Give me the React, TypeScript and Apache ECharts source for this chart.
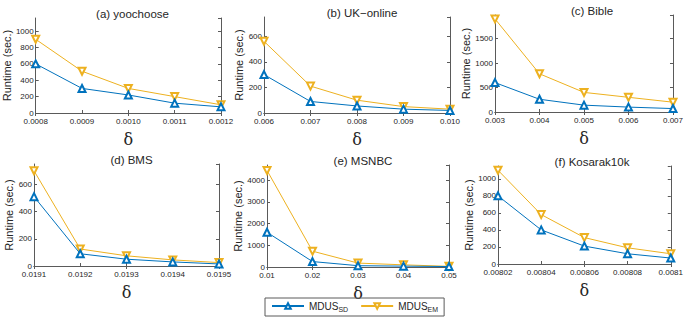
import { useEffect, useRef } from 'react';
import * as echarts from 'echarts';

const titles = ['(a) yoochoose', '(b) UK\u2212online', '(c) Bible', '(d) BMS', '(e) MSNBC', '(f) Kosarak10k'];

const xA = ['0.0008', '0.0009', '0.0010', '0.0011', '0.0012'];
const xB = ['0.006', '0.007', '0.008', '0.009', '0.010'];
const xC = ['0.003', '0.004', '0.005', '0.006', '0.007'];
const xD = ['0.0191', '0.0192', '0.0193', '0.0194', '0.0195'];
const xE = ['0.01', '0.02', '0.03', '0.04', '0.05'];
const xF = ['0.00802', '0.00804', '0.00806', '0.00808', '0.0081'];

const sdA = [600, 300, 220, 120, 75];
const emA = [900, 510, 300, 200, 100];
const sdB = [300, 90, 55, 30, 20];
const emB = [560, 210, 100, 50, 30];
const sdC = [600, 260, 140, 100, 70];
const emC = [1900, 780, 400, 300, 200];
const sdD = [510, 90, 50, 30, 15];
const emD = [700, 125, 75, 45, 25];
const sdE = [1600, 250, 60, 40, 20];
const emE = [4450, 730, 180, 100, 30];
const sdF = [800, 400, 210, 120, 70];
const emF = [1100, 580, 310, 190, 120];

const yMax = [1160, 750, 1980, 750, 4700, 1150];
const yInterval = [200, 200, 500, 200, 1000, 200];

const xCats = [xA, xB, xC, xD, xE, xF];
const sdSeries = [sdA, sdB, sdC, sdD, sdE, sdF];
const emSeries = [emA, emB, emC, emD, emE, emF];

const grids = [
  { left: 34, top: 18, width: 187, height: 95 },
  { left: 264, top: 17, width: 186, height: 96 },
  { left: 495, top: 15, width: 184, height: 97 },
  { left: 34, top: 164, width: 185, height: 102 },
  { left: 267, top: 165, width: 182, height: 102 },
  { left: 498, top: 166, width: 178, height: 98 },
];

const BLUE = '#0072BD';
const ORANGE = '#EDB120';
const INK = '#262626';
const BOX = '#5a5a5a';
const FONT = 'Liberation Sans, Arial, sans-serif';

export default function App() {
  const ref = useRef<HTMLDivElement>(null);
  useEffect(() => {
    if (!ref.current) return;
    const chart = echarts.init(ref.current, null, { renderer: 'svg' });
    const axisLine = { show: true, lineStyle: { color: BOX, width: 1 } };
    const tick = { show: true, inside: true, length: 3, lineStyle: { color: BOX, width: 1 } };
    const xAxis: any[] = [];
    const yAxis: any[] = [];
    const series: any[] = [];
    const title: any[] = [];
    grids.forEach((g, i) => {
      title.push({
        text: titles[i],
        left: g.left + g.width / 2,
        top: g.top - 15,
        textAlign: 'center',
        textStyle: { fontSize: 11.5, fontWeight: 'normal', color: INK, fontFamily: FONT },
      });
      xAxis.push({
        type: 'category',
        gridIndex: i,
        data: xCats[i],
        boundaryGap: false,
        position: 'bottom',
        axisLine,
        axisTick: tick,
        axisLabel: { fontSize: 8, color: INK, margin: 4, fontFamily: FONT, interval: 0 },
        splitLine: { show: false },
        name: 'δ',
        nameLocation: 'middle',
        nameGap: 18,
        nameTextStyle: { fontSize: 16, color: INK, fontFamily: 'DejaVu Serif, Liberation Serif, serif' },
      });
      xAxis.push({
        type: 'category',
        gridIndex: i,
        data: xCats[i],
        boundaryGap: false,
        position: 'top',
        axisLine,
        axisTick: tick,
        axisLabel: { show: false },
        splitLine: { show: false },
      });
      yAxis.push({
        type: 'value',
        gridIndex: i,
        min: 0,
        max: yMax[i],
        interval: yInterval[i],
        position: 'left',
        axisLine,
        axisTick: tick,
        axisLabel: {
          fontSize: 8,
          color: INK,
          margin: 2,
          fontFamily: FONT,
          showMaxLabel: false,
          formatter: (v: number) => String(v),
        },
        splitLine: { show: false },
        name: 'Runtime (sec.)',
        nameLocation: 'middle',
        nameGap: 20,
        nameTextStyle: { fontSize: 11, color: INK, fontFamily: FONT },
      });
      yAxis.push({
        type: 'value',
        gridIndex: i,
        min: 0,
        max: yMax[i],
        interval: yInterval[i],
        position: 'right',
        axisLine,
        axisTick: tick,
        axisLabel: { show: false },
        splitLine: { show: false },
      });
      series.push({
        name: 'MDUS_SD',
        type: 'line',
        xAxisIndex: 2 * i,
        yAxisIndex: 2 * i,
        data: sdSeries[i],
        symbol: 'emptyTriangle',
        symbolSize: 7,
        color: BLUE,
        lineStyle: { color: BLUE, width: 1 },
        itemStyle: { color: BLUE, borderColor: BLUE, borderWidth: 1 },
        z: 3,
      });
      series.push({
        name: 'MDUS_EM',
        type: 'line',
        xAxisIndex: 2 * i,
        yAxisIndex: 2 * i,
        data: emSeries[i],
        symbol: 'emptyTriangle',
        symbolRotate: 180,
        symbolSize: 7,
        color: ORANGE,
        lineStyle: { color: ORANGE, width: 1 },
        itemStyle: { color: ORANGE, borderColor: ORANGE, borderWidth: 1 },
        z: 2,
      });
    });
    chart.setOption({
      animation: false,
      backgroundColor: '#ffffff',
      grid: grids.map((g) => ({ ...g, containLabel: false })),
      title,
      xAxis,
      yAxis,
      series,
      legend: {
        data: ['MDUS_SD', 'MDUS_EM'],
        left: 265,
        top: 298,
        orient: 'horizontal',
        itemWidth: 32,
        itemHeight: 7,
        itemGap: 12,
        padding: [3, 6, 3, 6],
        borderColor: BOX,
        borderWidth: 1,
        formatter: (name: string) => '{m|MDUS}{s|' + name.split('_')[1] + '}',
        textStyle: {
          color: INK,
          fontFamily: FONT,
          fontSize: 10,
          rich: {
            m: { fontSize: 10, color: INK, fontFamily: FONT },
            s: { fontSize: 7, color: INK, fontFamily: FONT, padding: [7, 0, 0, 0] },
          },
        },
      },
    });
    return () => chart.dispose();
  }, []);
  return (
    <div
      ref={ref}
      style={{ position: 'fixed', left: 0, top: 0, width: 686, height: 328, background: '#fff' }}
    />
  );
}
